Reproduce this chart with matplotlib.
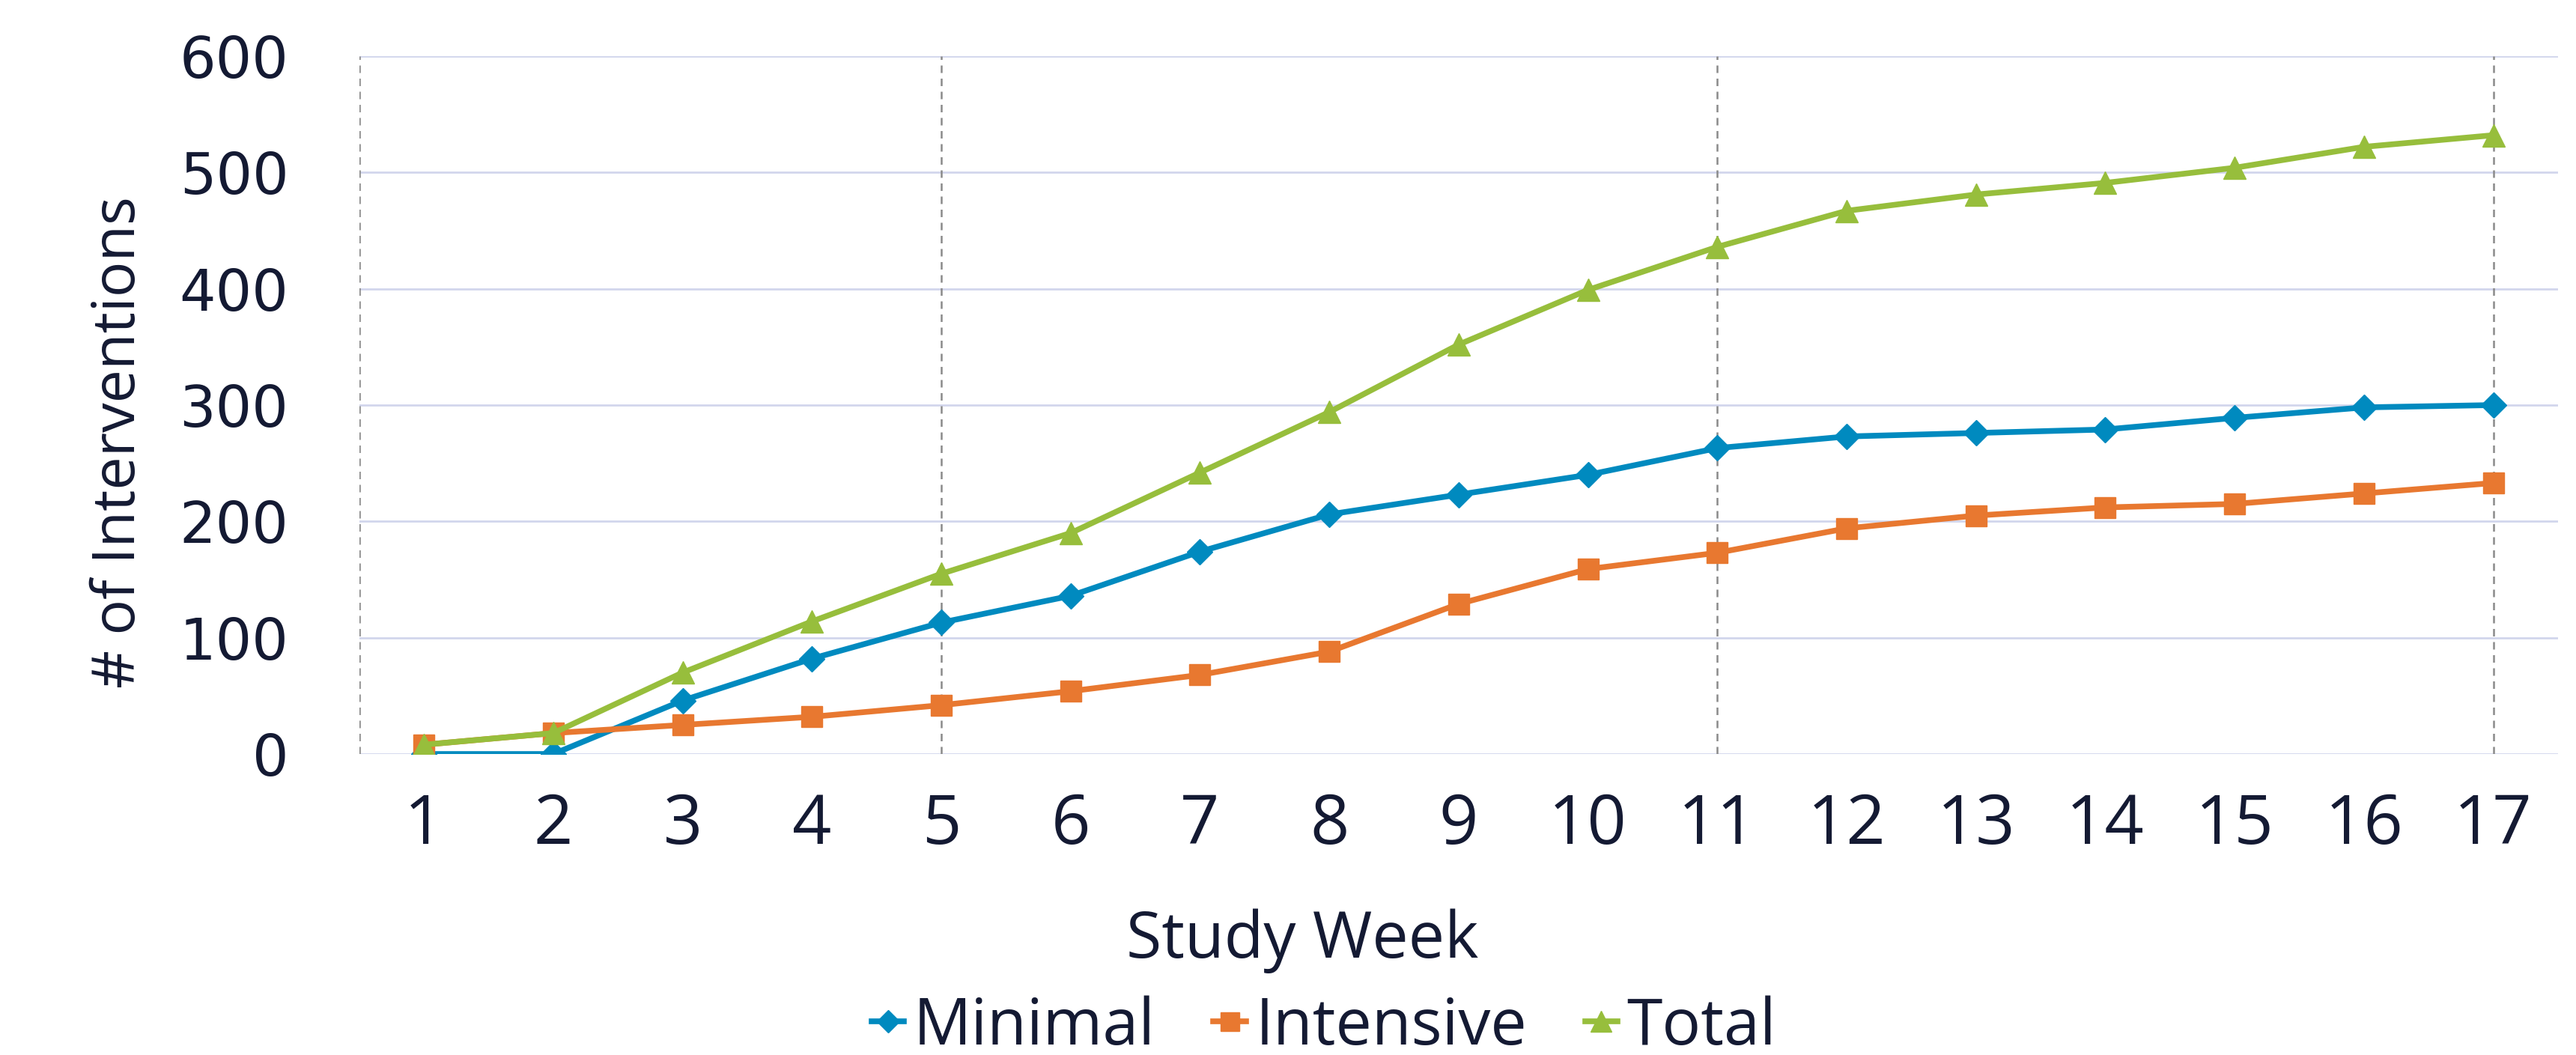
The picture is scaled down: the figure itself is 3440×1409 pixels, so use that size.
import matplotlib.pyplot as plt

# cumulative interventions per study week
weeks = list(range(1, 18))
minimal = [0, 0, 46, 82, 113, 136, 174, 206, 223, 240, 263, 273, 276, 279, 289, 298, 300]
intensive = [8, 18, 25, 32, 42, 54, 68, 88, 129, 159, 173, 194, 205, 212, 215, 224, 233]
total = [8, 18, 70, 114, 155, 190, 242, 294, 352, 399, 436, 467, 481, 491, 504, 522, 532]
phase_weeks = [0.5, 5, 11, 17]
y_ticks = [0, 100, 200, 300, 400, 500, 600]

txt = '#141a33'
plt.rcParams['font.family'] = ['Open Sans', 'DejaVu Sans']

fig = plt.figure(figsize=[34.4, 14.09], dpi=100)
ax = fig.add_axes([0.1395, 0.2853, 0.8535, 0.6615])

for w in phase_weeks:
    ax.axvline(w, color='#8a8a8a', linewidth=1.8, linestyle=(0, (4, 3)), zorder=1)
for t in y_ticks:
    ax.axhline(t, color='#d2d6ec', linewidth=2.0, zorder=0)

ax.plot(weeks, minimal, color='#008abf', linewidth=5.5, marker='D', markersize=17, label='Minimal', zorder=3)
ax.plot(weeks, intensive, color='#e87830', linewidth=5.5, marker='s', markersize=20, label='Intensive', zorder=3)
ax.plot(weeks, total, color='#97be3c', linewidth=5.5, marker='^', markersize=22, label='Total', zorder=3)

ax.set_xlim(0.5, 17.5)
ax.set_ylim(0, 600)
ax.set_xticks(weeks)
ax.set_yticks(y_ticks)
for s in ax.spines.values():
    s.set_visible(False)
ax.tick_params(axis='x', length=0, pad=36, labelsize=66, labelcolor=txt)
ax.tick_params(axis='y', length=0, pad=68, labelsize=55, labelcolor=txt)
for lab in ax.get_yticklabels():
    lab.set_family('DejaVu Sans')

# axis titles sit centred on the whole figure rather than the plot area
ax.set_xlabel('Study Week', fontsize=62, color=txt, va='center')
ax.xaxis.set_label_coords(0.429, -0.268)
ax.set_ylabel('# of Interventions', fontsize=57, color=txt, va='center')
ax.yaxis.set_label_coords(-0.109, 0.447)

fig.legend(loc='center', bbox_to_anchor=(0.514, 0.026), ncol=3, frameon=False,
           fontsize=62, labelcolor=txt, handlelength=0.5, handletextpad=0.15,
           columnspacing=0.9, borderpad=0, markerscale=0.9)

fig.savefig('out.png', dpi=100)
